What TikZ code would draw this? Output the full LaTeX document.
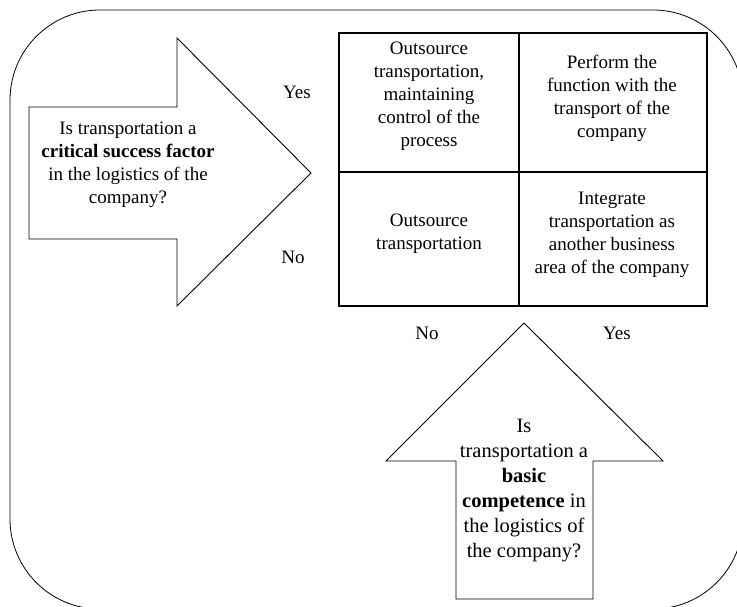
\documentclass[tikz,border=0pt]{standalone}
\usepackage{fontspec}
\setmainfont{Liberation Serif}
\begin{document}
\begin{tikzpicture}[x=1pt,y=-1pt]
\tikzset{
  outline/.style={draw=black, line width=0.9pt, line join=miter},
  frame/.style={draw=black, line width=0.8pt},
  gridline/.style={draw=black, line width=1.1pt},
  txt/.style={align=center, inner sep=0pt, font=\fontsize{19}{23}\selectfont},
  uptxt/.style={align=center, inner sep=0pt, font=\fontsize{20.5}{25}\selectfont},
  lbl/.style={inner sep=0pt, font=\fontsize{19}{23}\selectfont}
}
\useasboundingbox (0,0) rectangle (737,607);
\clip (0,0) rectangle (737,607);
% outer rounded frame
\draw[frame, rounded corners=90pt] (10,10) rectangle (743,609);
% right-pointing arrow
\draw[outline] (29,107) -- (177,107) -- (177,38) -- (311,173) -- (177,306) -- (177,239) -- (29,239) -- cycle;
% upward arrow
\draw[outline] (456,599) -- (456,461) -- (386,461) -- (524,323) -- (663,461) -- (593,461) -- (593,599) -- cycle;
% 2x2 grid
\draw[gridline] (339,33) rectangle (707,306);
\draw[gridline] (519,33) -- (519,306);
\draw[gridline] (339,172) -- (707,172);
% texts
\node[txt] (q1) at (128,165) {Is transportation a\\\textbf{critical success factor}\\in the logistics of the\\company?};
\node[uptxt] (q2) at (524,490) {Is\\transportation a\\\textbf{basic}\\\textbf{competence} in\\the logistics of\\the company?};
\node[txt] (c11) at (429,96) {Outsource\\transportation,\\maintaining\\control of the\\process};
\node[txt] (c12) at (612,98) {Perform the\\function with the\\transport of the\\company};
\node[txt] (c21) at (429,234) {Outsource\\transportation};
\node[txt] (c22) at (612,235) {Integrate\\transportation as\\another business\\area of the company};
\node[lbl] (yes1) at (297,92) {Yes};
\node[lbl] (no1) at (293,257) {No};
\node[lbl] (no2) at (427,333) {No};
\node[lbl] (yes2) at (617,333) {Yes};
\end{tikzpicture}
\end{document}
